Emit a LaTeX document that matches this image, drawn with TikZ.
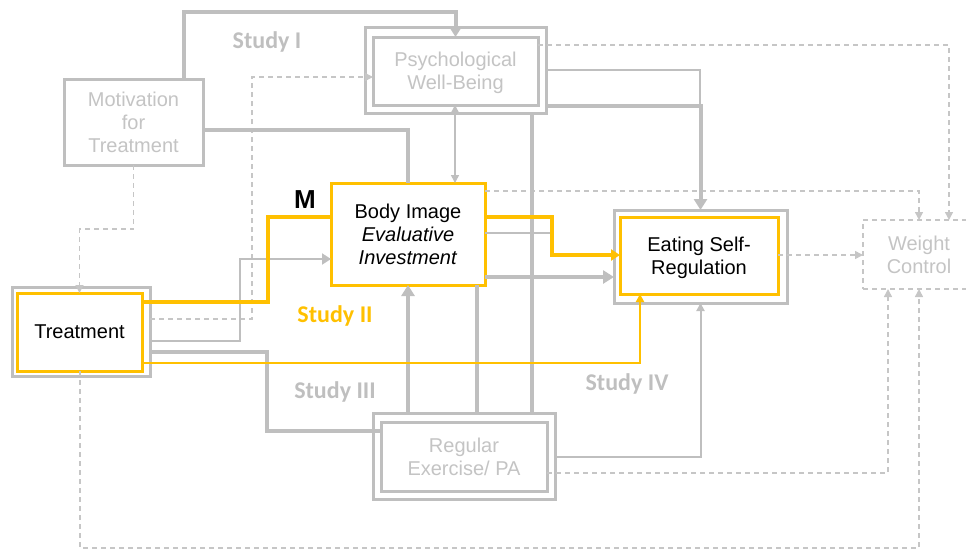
\documentclass[tikz,border=0pt]{standalone}
\usepackage{fontspec}
\setmainfont{Liberation Sans}
\newfontfamily\studyfont{Carlito}
\usetikzlibrary{arrows.meta}
\definecolor{ygold}{HTML}{FFC000}
\definecolor{lgray}{HTML}{BFBFBF}
\definecolor{tgray}{HTML}{C4C4C4}
\definecolor{dgray}{HTML}{C6C6C6}

\begin{document}
\begin{tikzpicture}[x=1pt,y=-1pt,
  every node/.style={inner sep=0pt, outer sep=0pt, align=center,
    font=\fontsize{20}{23}\selectfont},
  boxtext/.style={text depth=-2pt},
  outerbox/.style={draw=lgray, line width=3pt},
  grayinner/.style={boxtext, draw=lgray, line width=3pt, fill=white, text=tgray},
  goldbox/.style={boxtext, draw=ygold, line width=3pt, fill=white, text=black},
  dashbox/.style={boxtext, draw=dgray, line width=1.5pt, dash pattern=on 5pt off 4pt, text=tgray},
  thickg/.style={draw=lgray, line width=4pt},
  thing/.style={draw=lgray, line width=2pt},
  thinnest/.style={draw=lgray, line width=1.5pt},
  thickyl/.style={draw=ygold, line width=4pt},
  thinyl/.style={draw=ygold, line width=2pt},
  dashg/.style={draw=dgray, line width=1.5pt, dash pattern=on 5pt off 4pt},
  bigtip/.style={-{Triangle[width=13pt,length=11pt]}},
  midtip/.style={-{Triangle[width=11pt,length=9pt]}},
  smalltip/.style={-{Triangle[width=8pt,length=8pt]}},
  bothtips/.style={{Triangle[width=8pt,length=8pt]}-{Triangle[width=8pt,length=8pt]}},
  studylabel/.style={font=\studyfont\bfseries\fontsize{24}{26}\selectfont, text=lgray},
]
\clip (0,0) rectangle (966,550);

% ---------- boxes ----------
\node[grayinner, minimum width=139pt, minimum height=86pt] (motiv) at (133.5,122)
  {Motivation\\for\\Treatment};

\node[outerbox, minimum width=181pt, minimum height=86pt] (pwbo) at (455.5,70) {};
\node[grayinner, minimum width=165pt, minimum height=68pt] (pwb) at (455.5,71)
  {Psychological\\Well-Being};

\node[goldbox, minimum width=154pt, minimum height=102pt] (body) at (408,234)
  {Body Image\\\textit{Evaluative}\\\textit{Investment}};

\node[outerbox, minimum width=173pt, minimum height=93pt] (esro) at (700.5,256.5) {};
\node[goldbox, minimum width=158pt, minimum height=77pt] (esr) at (699,255.5)
  {Eating Self-\\Regulation};

\node[dashbox, minimum width=112pt, minimum height=69pt] (wc) at (919,254.5)
  {Weight\\Control};

\node[outerbox, minimum width=138pt, minimum height=89pt] (treato) at (81,331.5) {};
\node[goldbox, minimum width=125pt, minimum height=78pt] (treat) at (79.5,332)
  {Treatment};

\node[outerbox, minimum width=182pt, minimum height=86pt] (rego) at (464,456) {};
\node[grayinner, minimum width=166pt, minimum height=69pt] (reg) at (464,456.5)
  {Regular\\Exercise/ PA};

% ---------- bend points ----------
\coordinate (c1) at (184,12);
\coordinate (c2) at (408,130);
\coordinate (c3) at (80,229);
\coordinate (c4) at (252,77);
\coordinate (c4b) at (252,319);
\coordinate (c5) at (455,0);
\coordinate (c6) at (699,70);
\coordinate (c7) at (700,106);
\coordinate (c8) at (949,45);
\coordinate (c9) at (919,191);
\coordinate (c10) at (552,217);
\coordinate (c11) at (552,255);
\coordinate (c12) at (552,233);
\coordinate (c13) at (0,277);
\coordinate (c15) at (477,0);
\coordinate (c16) at (532,0);
\coordinate (c17) at (700,457);
\coordinate (c18) at (888,473);
\coordinate (c19) at (919,548);
\coordinate (c20) at (80,548);
\coordinate (c21) at (0,255);
\coordinate (c22) at (268,302);
\coordinate (c23) at (268,217);
\coordinate (c24) at (240,341);
\coordinate (c25) at (240,259);
\coordinate (c26) at (267,352);
\coordinate (c27) at (267,431);
\coordinate (c28) at (640,363);

% ---------- dashed paths ----------
\draw[dashg, smalltip] (motiv.south) |- (c3) -| (treat.north);
\draw[dashg, smalltip] (treato.east |- c4b) -- (c4b) -- (c4) -- (pwb.west |- c4);
\draw[dashg, smalltip] (pwb.east |- c8) -- (c8) -- (wc.north -| c8);
\draw[dashg, smalltip] (body.east |- c9) -- (c9) -- (wc.north);
\draw[dashg, smalltip] (esr.east |- c21) -- (wc.west |- c21);
\draw[dashg, smalltip] (reg.east |- c18) -- (c18) -- (wc.south -| c18);
\draw[dashg, smalltip] (treat.south -| c20) -- (c20) -- (c19) -- (wc.south);

% ---------- solid gray paths ----------
\draw[thickg, bigtip] (motiv.north -| c1) -- (c1) -| (pwb.north);
\draw[thickg] (motiv.east |- c2) -| (body.north);
\draw[thinnest, bothtips] (pwb.south -| c5) -- (body.north -| c5);
\draw[thing] (pwbo.east |- c6) -| (c7);
\draw[thickg, bigtip] (pwbo.east |- c7) -| (esro.north);
\draw[thickg] (rego.north -| c16) -- (pwbo.south -| c16);
\draw[thickg, bigtip] (rego.north -| body.south) -- (body.south);
\draw[thickg] (rego.north -| c15) -- (body.south -| c15);
\draw[thing, smalltip] (rego.east |- c17) -| (esro.south);
\draw[thickg] (treato.east |- c26) -- (c26) -- (c27) -- (reg.west |- c27);
\draw[thing, midtip] (treato.east |- c24) -- (c24) -- (c25) -- (body.west |- c25);
\draw[thing] (body.east |- c12) -- (c12);
\draw[thickg, bigtip] (body.east |- c13) -- (esro.west |- c13);

% ---------- highlighted paths ----------
\draw[thickyl] (treat.east |- c22) -- (c22) -- (c23) -- (body.west |- c23);
\draw[thickyl, midtip] (body.east |- c10) -- (c10) -- (c11) -- (esr.west |- c11);
\draw[thinyl, smalltip] (treat.east |- c28) -- (c28) -- (esr.south -| c28);

% ---------- labels ----------
\node[studylabel] (st1) at (267,42) {Study I};
\node[studylabel, text=ygold] (st2) at (335,316) {Study II};
\node[studylabel] (st3) at (335,392) {Study III};
\node[studylabel] (st4) at (627,384) {Study IV};
\node[font=\bfseries\fontsize{26}{28}\selectfont, text=black] (mlab) at (305,200) {M};
\end{tikzpicture}
\end{document}
